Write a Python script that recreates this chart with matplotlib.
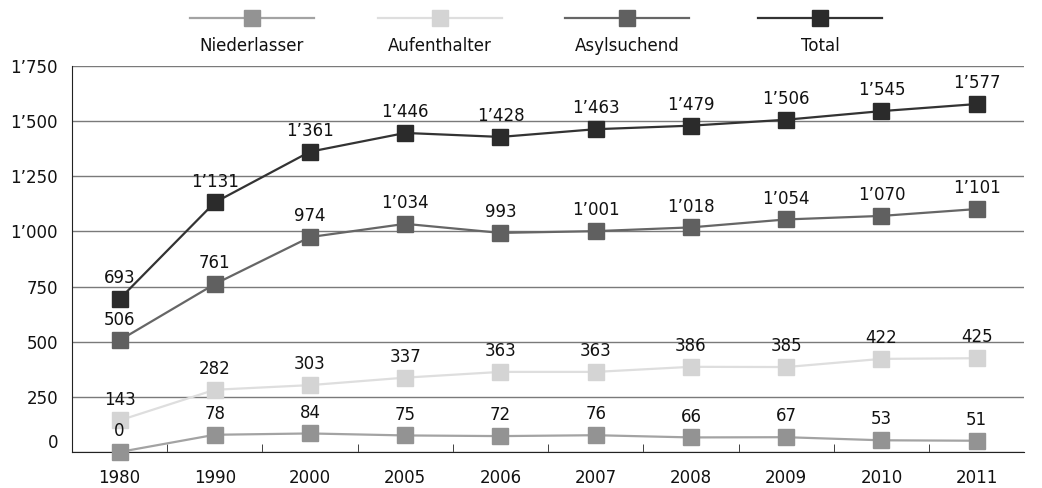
import matplotlib.pyplot as plt
from matplotlib.lines import Line2D
from matplotlib.ticker import FuncFormatter
import matplotlib.transforms as mtransforms

years = ["1980", "1990", "2000", "2005", "2006", "2007", "2008", "2009", "2010", "2011"]
niederlasser = [0, 78, 84, 75, 72, 76, 66, 67, 53, 51]
aufenthalter = [143, 282, 303, 337, 363, 363, 386, 385, 422, 425]
asylsuchend = [506, 761, 974, 1034, 993, 1001, 1018, 1054, 1070, 1101]
total = [693, 1131, 1361, 1446, 1428, 1463, 1479, 1506, 1545, 1577]

series = [
    ("Niederlasser", niederlasser, "#a3a3a3", "#939393"),
    ("Aufenthalter", aufenthalter, "#dedede", "#d4d4d4"),
    ("Asylsuchend", asylsuchend, "#666666", "#606060"),
    ("Total", total, "#333333", "#2b2b2b"),
]


def fmt(v):
    return f"{int(v):,}".replace(",", "\u2019")


plt.rcParams['font.family'] = ['DejaVu Sans']
FS = 12
MS = 12
fig = plt.figure(figsize=(10.42, 4.88), dpi=100)
ax = fig.add_axes([0.069, 0.0738, 0.914, 0.7912])

x = list(range(len(years)))
for name, vals, lc, mc in series:
    ax.plot(x, vals, color=lc, lw=1.6, marker='s', markersize=MS,
            markerfacecolor=mc, markeredgecolor=mc, clip_on=False, zorder=3)
    for xi, v in zip(x, vals):
        ax.annotate(fmt(v), (xi, v), xytext=(0, 8.5), textcoords='offset points',
                    ha='center', va='bottom', fontsize=FS, color='#111111', zorder=4)

ax.set_xlim(-0.5, len(years) - 0.5)
ax.set_ylim(0, 1750)
ax.set_yticks(range(0, 1751, 250))
ax.yaxis.set_major_formatter(FuncFormatter(lambda v, p: fmt(v)))
ax.grid(axis='y', color='#7a7a7a', lw=1)
ax.set_axisbelow(True)

ax.set_xticks(x)
ax.set_xticklabels(years)
ax.set_xticks([i + 0.5 for i in x[:-1]], minor=True)
ax.tick_params(axis='x', which='major', length=0, pad=12, labelsize=FS, colors='#111111')
ax.tick_params(axis='x', which='minor', direction='in', length=6, color='#222222')
ax.tick_params(axis='y', length=0, pad=10, labelsize=FS, colors='#111111')
# the zero label sits a little above the axis line
zero_lab = ax.get_yticklabels()[0]
zero_lab.set_transform(zero_lab.get_transform() +
                       mtransforms.ScaledTranslation(0, 8 / 72, fig.dpi_scale_trans))

for s in ['top', 'right']:
    ax.spines[s].set_visible(False)
ax.spines['left'].set_color('#222222')
ax.spines['bottom'].set_color('#222222')

# legend row on top
centers = [252, 440, 627, 820]
W, H = 1042, 488
for (name, vals, lc, mc), cx in zip(series, centers):
    fig.add_artist(Line2D([(cx - 62) / W, (cx + 62) / W], [1 - 18 / H, 1 - 18 / H],
                          color=lc, lw=1.6))
    fig.add_artist(Line2D([cx / W], [1 - 18 / H], marker='s', markersize=MS,
                          markerfacecolor=mc, markeredgecolor=mc, lw=0))
    fig.text(cx / W, 1 - 46 / H, name, ha='center', va='center', fontsize=FS, color='#111111')

fig.savefig("out.png", dpi=100)
